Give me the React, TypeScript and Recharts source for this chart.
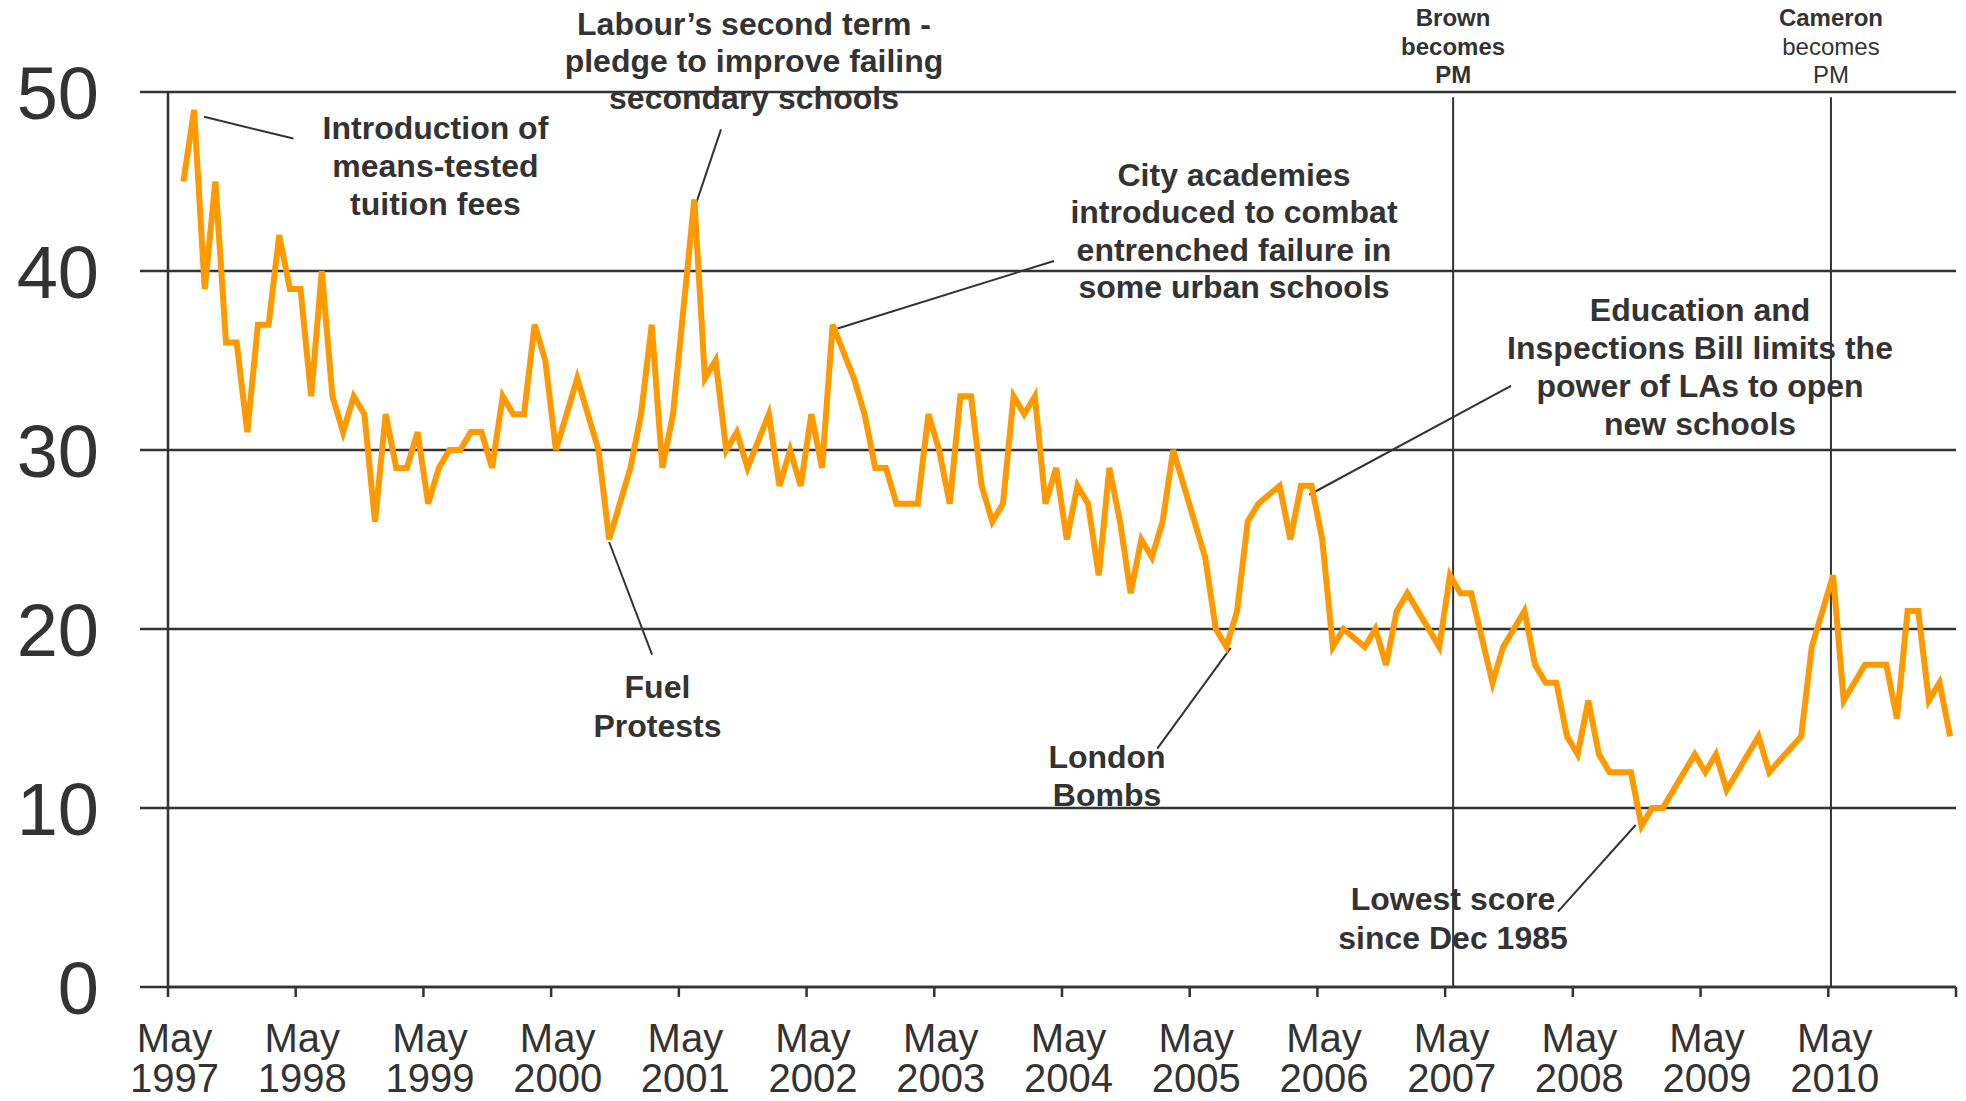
import {
  LineChart,
  Line,
  XAxis,
  YAxis,
  CartesianGrid,
  ReferenceLine,
  ReferenceDot,
} from "recharts";

const FONT = '"Liberation Sans", Arial, Helvetica, sans-serif';
const INK = "#333333";
const ORANGE = "#FF9900";

// monthly score from Jun 1997 to Apr 2011 (null = no reading that month)
const scores: (number | null)[] = [
  45, 49, 39, 45, 36, 36, 31, 37, 37, 42, 39, 39,
  33, 40, 33, 31, 33, 32, 26, 32, 29, 29, 31, 27,
  29, 30, 30, 31, 31, 29, 33, 32, 32, 37, 35, 30,
  32, 34, 32, 30, 25, 27, 29, 32, 37, 29, 32, 38,
  44, 34, 35, 30, 31, 29, null, 32, 28, 30, 28, 32,
  29, 37, null, 34, 32, 29, 29, 27, 27, 27, 32, 30,
  27, 33, 33, 28, 26, 27, 33, 32, 33, 27, 29, 25,
  28, 27, 23, 29, 26, 22, 25, 24, 26, 30, 28, 26,
  24, 20, 19, 21, 26, 27, null, 28, 25, 28, 28, 25,
  19, 20, null, 19, 20, 18, 21, 22, 21, 20, 19, 23,
  22, 22, null, 17, 19, 20, 21, 18, 17, 17, 14, 13,
  16, 13, 12, 12, 12, 9, 10, 10, 11, 12, 13, 12,
  13, 11, 12, 13, 14, 12, null, null, 14, 19, 21, 23,
  16, 17, 18, 18, 18, 15, 21, 21, 16, 17, 14,
];

// months counted from the start of May 1997; first reading is mid June 1997
const FIRST_MONTH = 1.45;
const tickYears = [
  1997, 1998, 1999, 2000, 2001, 2002, 2003, 2004, 2005, 2006, 2007, 2008,
  2009, 2010,
];
const yTicks = [0, 10, 20, 30, 40, 50];

const pmChanges = [
  { month: 120.75, lines: ["Brown", "becomes", "PM"], bold: [true, true, true] },
  { month: 156.25, lines: ["Cameron", "becomes", "PM"], bold: [true, false, false] },
];

const annotations = [
  {
    lines: ["Introduction of", "means-tested", "tuition fees"],
    at: { x: 25.13, y: 47.4 },
    from: { x: 3.38, y: 48.62 },
    to: { x: 11.78, y: 47.4 },
    gap: 38,
  },
  {
    lines: ["Labour\u2019s second term -", "pledge to improve failing", "secondary schools"],
    at: { x: 55.06, y: 53.21 },
    from: { x: 51.96, y: 47.91 },
    to: { x: 49.33, y: 43.26 },
    gap: 37,
  },
  {
    lines: ["City academies", "introduced to combat", "entrenched failure in", "some urban schools"],
    at: { x: 100.16, y: 44.75 },
    from: { x: 83.25, y: 40.56 },
    to: { x: 62.91, y: 36.79 },
    gap: 37.5,
  },
  {
    lines: ["Education and", "Inspections Bill limits the", "power of LAs to open", "new schools"],
    at: { x: 143.95, y: 37.21 },
    from: { x: 126.19, y: 33.58 },
    to: { x: 107.24, y: 27.5 },
    gap: 38,
  },
  {
    lines: ["Fuel", "Protests"],
    at: { x: 45.99, y: 16.12 },
    from: { x: 41.45, y: 24.86 },
    to: { x: 45.48, y: 18.57 },
    gap: 38.5,
  },
  {
    lines: ["London", "Bombs"],
    at: { x: 88.23, y: 12.23 },
    from: { x: 92.95, y: 13.32 },
    to: { x: 99.85, y: 18.95 },
    gap: 38,
  },
  {
    lines: ["Lowest score", "since Dec 1985"],
    at: { x: 120.74, y: 4.3 },
    from: { x: 130.6, y: 4.21 },
    to: { x: 137.9, y: 9.05 },
    gap: 38.5,
  },
];

const chartData = scores.map((score, i) => ({ month: i + FIRST_MONTH, score }));
const xTicks = [...tickYears.map((y) => (y - 1997) * 12), tickYears.length * 12];

function YTick(props: any) {
  const { x, y, payload } = props;
  return (
    <text x={x} y={y} dy="0.36em" textAnchor="end" fontSize={74} fill={INK} fontFamily={FONT}>
      {payload.value}
    </text>
  );
}

function XTick(props: any) {
  const { x, y, payload } = props;
  const idx = payload.value / 12;
  if (idx >= tickYears.length) return <g />;
  return (
    <text textAnchor="middle" fontSize={40} fill={INK} fontFamily={FONT}>
      <tspan x={x + 6.5} y={y + 53}>May</tspan>
      <tspan x={x + 6.5} y={y + 93}>{tickYears[idx]}</tspan>
    </text>
  );
}

function textBlock(lines: string[], gap: number, size: number, bold: boolean[] | boolean) {
  return (props: any) => {
    const { cx, cy } = props;
    return (
      <text textAnchor="middle" fontSize={size} fill={INK} fontFamily={FONT}>
        {lines.map((l, k) => (
          <tspan
            key={k}
            x={cx}
            y={cy + k * gap}
            fontWeight={(Array.isArray(bold) ? bold[k] : bold) ? "bold" : "normal"}
          >
            {l}
          </tspan>
        ))}
      </text>
    );
  };
}

export default function App() {
  return (
    <div style={{ position: "absolute", left: 0, top: 0, background: "#fff" }}>
      <LineChart
        width={1966}
        height={1101}
        data={chartData}
        margin={{ top: 92, right: 10, bottom: 84, left: 0 }}
      >
        <CartesianGrid vertical={false} stroke={INK} strokeWidth={2.5} />
        <XAxis
          type="number"
          dataKey="month"
          domain={[0, 168]}
          ticks={xTicks}
          interval={0}
          height={30}
          tickSize={10}
          tickMargin={2}
          axisLine={{ stroke: INK, strokeWidth: 2.5 }}
          tickLine={{ stroke: INK, strokeWidth: 2.5 }}
          tick={<XTick />}
        />
        <YAxis
          width={168}
          domain={[0, 50]}
          ticks={yTicks}
          interval={0}
          tickSize={28}
          tickMargin={41}
          axisLine={{ stroke: INK, strokeWidth: 2.5 }}
          tickLine={{ stroke: INK, strokeWidth: 2.5 }}
          tick={<YTick />}
        />
        {pmChanges.map((p) => (
          <ReferenceLine
            key={p.lines[0]}
            segment={[
              { x: p.month, y: 49.7 },
              { x: p.month, y: 0 },
            ]}
            stroke={INK}
            strokeWidth={2}
            ifOverflow="visible"
          />
        ))}
        {annotations.map((a, i) => (
          <ReferenceLine
            key={"l" + i}
            segment={[a.from, a.to]}
            stroke={INK}
            strokeWidth={2}
            ifOverflow="visible"
          />
        ))}
        <Line
          type="linear"
          dataKey="score"
          stroke={ORANGE}
          strokeWidth={6}
          dot={false}
          connectNulls
          isAnimationActive={false}
        />
        {annotations.map((a, i) => (
          <ReferenceDot
            key={"t" + i}
            x={a.at.x}
            y={a.at.y}
            r={0}
            ifOverflow="visible"
            shape={textBlock(a.lines, a.gap, 32, true)}
          />
        ))}
        {pmChanges.map((p) => (
          <ReferenceDot
            key={"pm" + p.lines[0]}
            x={p.month}
            y={53.69}
            r={0}
            ifOverflow="visible"
            shape={textBlock(p.lines, 28.7, 24, p.bold)}
          />
        ))}
      </LineChart>
    </div>
  );
}
